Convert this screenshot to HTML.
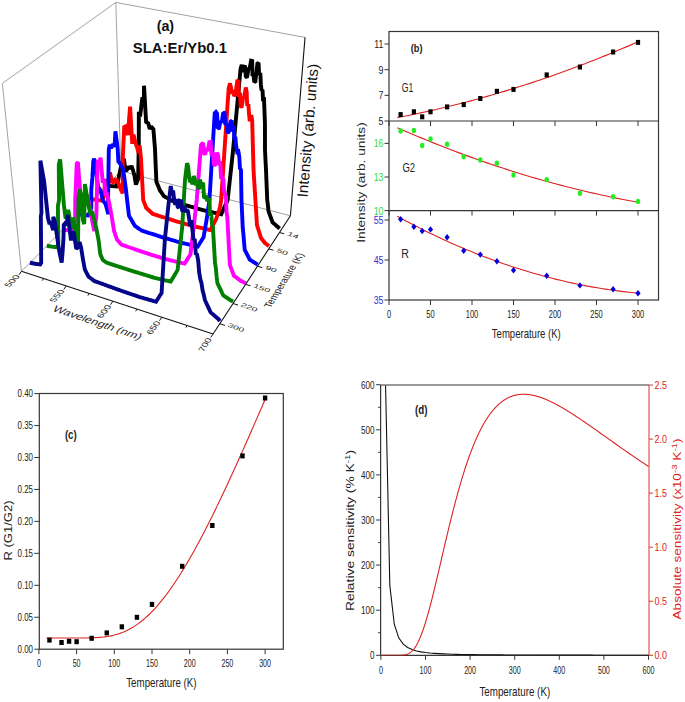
<!DOCTYPE html>
<html><head><meta charset="utf-8"><style>
html,body{margin:0;padding:0;background:#fff;overflow:hidden;width:685px;height:702px;}
svg{display:block;font-family:"Liberation Sans",sans-serif;}
</style></head><body>
<svg width="685" height="702" viewBox="0 0 685 702">
<rect width="685" height="702" fill="#fff"/>
<rect x="389.0" y="31.5" width="269.5" height="268.5" fill="none" stroke="#363636" stroke-width="1.2"/>
<line x1="389" y1="121" x2="658.5" y2="121" stroke="#363636" stroke-width="1.2"/>
<line x1="389" y1="210.6" x2="658.5" y2="210.6" stroke="#363636" stroke-width="1.2"/>
<line x1="389" y1="121" x2="389" y2="126" stroke="#363636" stroke-width="1"/>
<line x1="430.5" y1="121" x2="430.5" y2="126" stroke="#363636" stroke-width="1"/>
<line x1="472" y1="121" x2="472" y2="126" stroke="#363636" stroke-width="1"/>
<line x1="513.5" y1="121" x2="513.5" y2="126" stroke="#363636" stroke-width="1"/>
<line x1="555" y1="121" x2="555" y2="126" stroke="#363636" stroke-width="1"/>
<line x1="596.5" y1="121" x2="596.5" y2="126" stroke="#363636" stroke-width="1"/>
<line x1="638" y1="121" x2="638" y2="126" stroke="#363636" stroke-width="1"/>
<line x1="389" y1="210.6" x2="389" y2="215.6" stroke="#363636" stroke-width="1"/>
<line x1="430.5" y1="210.6" x2="430.5" y2="215.6" stroke="#363636" stroke-width="1"/>
<line x1="472" y1="210.6" x2="472" y2="215.6" stroke="#363636" stroke-width="1"/>
<line x1="513.5" y1="210.6" x2="513.5" y2="215.6" stroke="#363636" stroke-width="1"/>
<line x1="555" y1="210.6" x2="555" y2="215.6" stroke="#363636" stroke-width="1"/>
<line x1="596.5" y1="210.6" x2="596.5" y2="215.6" stroke="#363636" stroke-width="1"/>
<line x1="638" y1="210.6" x2="638" y2="215.6" stroke="#363636" stroke-width="1"/>
<line x1="389" y1="300" x2="389" y2="305" stroke="#363636" stroke-width="1"/>
<line x1="430.5" y1="300" x2="430.5" y2="305" stroke="#363636" stroke-width="1"/>
<line x1="472" y1="300" x2="472" y2="305" stroke="#363636" stroke-width="1"/>
<line x1="513.5" y1="300" x2="513.5" y2="305" stroke="#363636" stroke-width="1"/>
<line x1="555" y1="300" x2="555" y2="305" stroke="#363636" stroke-width="1"/>
<line x1="596.5" y1="300" x2="596.5" y2="305" stroke="#363636" stroke-width="1"/>
<line x1="638" y1="300" x2="638" y2="305" stroke="#363636" stroke-width="1"/>
<text x="389" y="318" font-size="11" text-anchor="middle" fill="#222" textLength="4.16" lengthAdjust="spacingAndGlyphs">0</text>
<text x="430.5" y="318" font-size="11" text-anchor="middle" fill="#222" textLength="8.32" lengthAdjust="spacingAndGlyphs">50</text>
<text x="472" y="318" font-size="11" text-anchor="middle" fill="#222" textLength="12.48" lengthAdjust="spacingAndGlyphs">100</text>
<text x="513.5" y="318" font-size="11" text-anchor="middle" fill="#222" textLength="12.48" lengthAdjust="spacingAndGlyphs">150</text>
<text x="555" y="318" font-size="11" text-anchor="middle" fill="#222" textLength="12.48" lengthAdjust="spacingAndGlyphs">200</text>
<text x="596.5" y="318" font-size="11" text-anchor="middle" fill="#222" textLength="12.48" lengthAdjust="spacingAndGlyphs">250</text>
<text x="638" y="318" font-size="11" text-anchor="middle" fill="#222" textLength="12.48" lengthAdjust="spacingAndGlyphs">300</text>
<text x="526.3" y="338.4" font-size="13.5" text-anchor="middle" fill="#222" textLength="69" lengthAdjust="spacingAndGlyphs">Temperature (K)</text>
<line x1="384.5" y1="121" x2="389" y2="121" stroke="#363636" stroke-width="1"/>
<text x="383.5" y="124.9" font-size="11" text-anchor="end" fill="#222" textLength="4.89" lengthAdjust="spacingAndGlyphs">5</text>
<line x1="384.5" y1="95.34" x2="389" y2="95.34" stroke="#363636" stroke-width="1"/>
<text x="383.5" y="99.24" font-size="11" text-anchor="end" fill="#222" textLength="4.89" lengthAdjust="spacingAndGlyphs">7</text>
<line x1="384.5" y1="69.68" x2="389" y2="69.68" stroke="#363636" stroke-width="1"/>
<text x="383.5" y="73.58" font-size="11" text-anchor="end" fill="#222" textLength="4.89" lengthAdjust="spacingAndGlyphs">9</text>
<line x1="384.5" y1="44.02" x2="389" y2="44.02" stroke="#363636" stroke-width="1"/>
<text x="383.5" y="47.92" font-size="11" text-anchor="end" fill="#222" textLength="9.13" lengthAdjust="spacingAndGlyphs">11</text>
<line x1="384.5" y1="210.6" x2="389" y2="210.6" stroke="#363636" stroke-width="1"/>
<text x="383.5" y="214.5" font-size="11" text-anchor="end" fill="#33dd33" textLength="9.79" lengthAdjust="spacingAndGlyphs">10</text>
<line x1="384.5" y1="177" x2="389" y2="177" stroke="#363636" stroke-width="1"/>
<text x="383.5" y="180.9" font-size="11" text-anchor="end" fill="#33dd33" textLength="9.79" lengthAdjust="spacingAndGlyphs">13</text>
<line x1="384.5" y1="143.4" x2="389" y2="143.4" stroke="#363636" stroke-width="1"/>
<text x="383.5" y="147.3" font-size="11" text-anchor="end" fill="#33dd33" textLength="9.79" lengthAdjust="spacingAndGlyphs">16</text>
<line x1="384.5" y1="300" x2="389" y2="300" stroke="#363636" stroke-width="1"/>
<text x="383.5" y="303.9" font-size="11" text-anchor="end" fill="#3333cc" textLength="9.79" lengthAdjust="spacingAndGlyphs">35</text>
<line x1="384.5" y1="260" x2="389" y2="260" stroke="#363636" stroke-width="1"/>
<text x="383.5" y="263.9" font-size="11" text-anchor="end" fill="#3333cc" textLength="9.79" lengthAdjust="spacingAndGlyphs">45</text>
<line x1="384.5" y1="220" x2="389" y2="220" stroke="#363636" stroke-width="1"/>
<text x="383.5" y="223.9" font-size="11" text-anchor="end" fill="#3333cc" textLength="9.79" lengthAdjust="spacingAndGlyphs">55</text>
<text x="365" y="182.5" font-size="10.5" text-anchor="middle" fill="#222" textLength="120.6" lengthAdjust="spacingAndGlyphs" transform="rotate(-90 365 182.5)">Intensity (arb. units)</text>
<text x="416.6" y="52.4" font-size="11.5" text-anchor="middle" fill="#222" font-weight="bold" textLength="11.75" lengthAdjust="spacingAndGlyphs">(b)</text>
<text x="407.6" y="91.8" font-size="12" text-anchor="middle" fill="#222" textLength="11.52" lengthAdjust="spacingAndGlyphs">G1</text>
<text x="408.8" y="172.3" font-size="12.5" text-anchor="middle" fill="#222" textLength="12.67" lengthAdjust="spacingAndGlyphs">G2</text>
<text x="405.2" y="258.3" font-size="12.5" text-anchor="middle" fill="#222" textLength="7.67" lengthAdjust="spacingAndGlyphs">R</text>
<polyline points="397.3,117.6 401.38,116.82 405.46,116.02 409.54,115.2 413.62,114.36 417.7,113.51 421.78,112.64 425.86,111.76 429.94,110.85 434.02,109.93 438.1,108.99 442.18,108.04 446.26,107.06 450.34,106.07 454.42,105.07 458.49,104.04 462.57,103 466.65,101.94 470.73,100.86 474.81,99.77 478.89,98.66 482.97,97.53 487.05,96.38 491.13,95.22 495.21,94.04 499.29,92.84 503.37,91.63 507.45,90.39 511.53,89.14 515.61,87.88 519.69,86.59 523.77,85.29 527.85,83.97 531.93,82.63 536.01,81.28 540.09,79.91 544.17,78.52 548.25,77.12 552.33,75.69 556.41,74.25 560.49,72.8 564.57,71.32 568.65,69.83 572.73,68.32 576.81,66.79 580.88,65.25 584.96,63.69 589.04,62.11 593.12,60.51 597.2,58.9 601.28,57.27 605.36,55.62 609.44,53.96 613.52,52.27 617.6,50.57 621.68,48.86 625.76,47.12 629.84,45.37 633.92,43.6 638,41.82" fill="none" stroke="#dd2222" stroke-width="1.1" stroke-linejoin="miter" stroke-miterlimit="1.6" stroke-linecap="butt"/>
<polyline points="397.3,127.66 401.38,129.45 405.46,131.22 409.54,132.98 413.62,134.71 417.7,136.43 421.78,138.13 425.86,139.82 429.94,141.48 434.02,143.13 438.1,144.75 442.18,146.36 446.26,147.96 450.34,149.53 454.42,151.08 458.49,152.62 462.57,154.14 466.65,155.64 470.73,157.12 474.81,158.59 478.89,160.03 482.97,161.46 487.05,162.87 491.13,164.26 495.21,165.63 499.29,166.99 503.37,168.33 507.45,169.64 511.53,170.95 515.61,172.23 519.69,173.49 523.77,174.74 527.85,175.96 531.93,177.17 536.01,178.36 540.09,179.54 544.17,180.69 548.25,181.83 552.33,182.95 556.41,184.05 560.49,185.13 564.57,186.19 568.65,187.24 572.73,188.27 576.81,189.27 580.88,190.27 584.96,191.24 589.04,192.19 593.12,193.13 597.2,194.05 601.28,194.95 605.36,195.83 609.44,196.69 613.52,197.54 617.6,198.36 621.68,199.17 625.76,199.96 629.84,200.74 633.92,201.49 638,202.23" fill="none" stroke="#dd2222" stroke-width="1.1" stroke-linejoin="miter" stroke-miterlimit="1.6" stroke-linecap="butt"/>
<polyline points="397.3,216.31 401.38,218.52 405.46,220.71 409.54,222.86 413.62,224.98 417.7,227.07 421.78,229.12 425.86,231.15 429.94,233.14 434.02,235.11 438.1,237.04 442.18,238.94 446.26,240.81 450.34,242.64 454.42,244.45 458.49,246.22 462.57,247.97 466.65,249.68 470.73,251.36 474.81,253 478.89,254.62 482.97,256.21 487.05,257.76 491.13,259.28 495.21,260.77 499.29,262.23 503.37,263.66 507.45,265.06 511.53,266.42 515.61,267.75 519.69,269.06 523.77,270.33 527.85,271.57 531.93,272.77 536.01,273.95 540.09,275.09 544.17,276.21 548.25,277.29 552.33,278.34 556.41,279.36 560.49,280.34 564.57,281.3 568.65,282.22 572.73,283.12 576.81,283.98 580.88,284.81 584.96,285.61 589.04,286.37 593.12,287.11 597.2,287.81 601.28,288.48 605.36,289.12 609.44,289.73 613.52,290.31 617.6,290.86 621.68,291.37 625.76,291.86 629.84,292.31 633.92,292.73 638,293.12" fill="none" stroke="#dd2222" stroke-width="1.1" stroke-linejoin="miter" stroke-miterlimit="1.6" stroke-linecap="butt"/>
<rect x="398.52" y="112.1" width="4.2" height="5" fill="#000"/>
<rect x="411.8" y="109.3" width="4.2" height="5" fill="#000"/>
<rect x="420.1" y="114.3" width="4.2" height="5" fill="#000"/>
<rect x="428.4" y="109.3" width="4.2" height="5" fill="#000"/>
<rect x="445" y="104.4" width="4.2" height="5" fill="#000"/>
<rect x="461.6" y="102.1" width="4.2" height="5" fill="#000"/>
<rect x="478.2" y="96" width="4.2" height="5" fill="#000"/>
<rect x="494.8" y="88.8" width="4.2" height="5" fill="#000"/>
<rect x="511.4" y="86.9" width="4.2" height="5" fill="#000"/>
<rect x="544.6" y="72.4" width="4.2" height="5" fill="#000"/>
<rect x="577.8" y="64.5" width="4.2" height="5" fill="#000"/>
<rect x="611" y="49.5" width="4.2" height="5" fill="#000"/>
<rect x="635.9" y="39.9" width="4.2" height="5" fill="#000"/>
<ellipse cx="400.62" cy="131" rx="2.2" ry="2.7" fill="#22ee22"/>
<ellipse cx="413.9" cy="130.5" rx="2.2" ry="2.7" fill="#22ee22"/>
<ellipse cx="422.2" cy="145.5" rx="2.2" ry="2.7" fill="#22ee22"/>
<ellipse cx="430.5" cy="138.9" rx="2.2" ry="2.7" fill="#22ee22"/>
<ellipse cx="447.1" cy="144.2" rx="2.2" ry="2.7" fill="#22ee22"/>
<ellipse cx="463.7" cy="156.8" rx="2.2" ry="2.7" fill="#22ee22"/>
<ellipse cx="480.3" cy="160" rx="2.2" ry="2.7" fill="#22ee22"/>
<ellipse cx="496.9" cy="163.3" rx="2.2" ry="2.7" fill="#22ee22"/>
<ellipse cx="513.5" cy="175" rx="2.2" ry="2.7" fill="#22ee22"/>
<ellipse cx="546.7" cy="179.6" rx="2.2" ry="2.7" fill="#22ee22"/>
<ellipse cx="579.9" cy="193.3" rx="2.2" ry="2.7" fill="#22ee22"/>
<ellipse cx="613.1" cy="196.7" rx="2.2" ry="2.7" fill="#22ee22"/>
<ellipse cx="638" cy="201.4" rx="2.2" ry="2.7" fill="#22ee22"/>
<polygon points="400.62,216 403.22,219.2 400.62,222.4 398.02,219.2" fill="#0000dd"/>
<polygon points="413.9,223.6 416.5,226.8 413.9,230 411.3,226.8" fill="#0000dd"/>
<polygon points="422.2,227.8 424.8,231 422.2,234.2 419.6,231" fill="#0000dd"/>
<polygon points="430.5,226.2 433.1,229.4 430.5,232.6 427.9,229.4" fill="#0000dd"/>
<polygon points="447.1,234.1 449.7,237.3 447.1,240.5 444.5,237.3" fill="#0000dd"/>
<polygon points="463.7,247.5 466.3,250.7 463.7,253.9 461.1,250.7" fill="#0000dd"/>
<polygon points="480.3,251.4 482.9,254.6 480.3,257.8 477.7,254.6" fill="#0000dd"/>
<polygon points="496.9,258 499.5,261.2 496.9,264.4 494.3,261.2" fill="#0000dd"/>
<polygon points="513.5,267 516.1,270.2 513.5,273.4 510.9,270.2" fill="#0000dd"/>
<polygon points="546.7,272.5 549.3,275.7 546.7,278.9 544.1,275.7" fill="#0000dd"/>
<polygon points="579.9,282.2 582.5,285.4 579.9,288.6 577.3,285.4" fill="#0000dd"/>
<polygon points="613.1,286.1 615.7,289.3 613.1,292.5 610.5,289.3" fill="#0000dd"/>
<polygon points="638,290.1 640.6,293.3 638,296.5 635.4,293.3" fill="#0000dd"/>
<rect x="39.3" y="393.5" width="244" height="255.7" fill="none" stroke="#363636" stroke-width="1.2"/>
<line x1="34.3" y1="649.2" x2="39.3" y2="649.2" stroke="#363636" stroke-width="1"/>
<text x="33" y="653" font-size="10.6" text-anchor="end" fill="#222" textLength="15.47" lengthAdjust="spacingAndGlyphs">0.00</text>
<line x1="34.3" y1="617.25" x2="39.3" y2="617.25" stroke="#363636" stroke-width="1"/>
<text x="33" y="621.05" font-size="10.6" text-anchor="end" fill="#222" textLength="15.47" lengthAdjust="spacingAndGlyphs">0.05</text>
<line x1="34.3" y1="585.3" x2="39.3" y2="585.3" stroke="#363636" stroke-width="1"/>
<text x="33" y="589.1" font-size="10.6" text-anchor="end" fill="#222" textLength="15.47" lengthAdjust="spacingAndGlyphs">0.10</text>
<line x1="34.3" y1="553.35" x2="39.3" y2="553.35" stroke="#363636" stroke-width="1"/>
<text x="33" y="557.15" font-size="10.6" text-anchor="end" fill="#222" textLength="15.47" lengthAdjust="spacingAndGlyphs">0.15</text>
<line x1="34.3" y1="521.4" x2="39.3" y2="521.4" stroke="#363636" stroke-width="1"/>
<text x="33" y="525.2" font-size="10.6" text-anchor="end" fill="#222" textLength="15.47" lengthAdjust="spacingAndGlyphs">0.20</text>
<line x1="34.3" y1="489.45" x2="39.3" y2="489.45" stroke="#363636" stroke-width="1"/>
<text x="33" y="493.25" font-size="10.6" text-anchor="end" fill="#222" textLength="15.47" lengthAdjust="spacingAndGlyphs">0.25</text>
<line x1="34.3" y1="457.5" x2="39.3" y2="457.5" stroke="#363636" stroke-width="1"/>
<text x="33" y="461.3" font-size="10.6" text-anchor="end" fill="#222" textLength="15.47" lengthAdjust="spacingAndGlyphs">0.30</text>
<line x1="34.3" y1="425.55" x2="39.3" y2="425.55" stroke="#363636" stroke-width="1"/>
<text x="33" y="429.35" font-size="10.6" text-anchor="end" fill="#222" textLength="15.47" lengthAdjust="spacingAndGlyphs">0.35</text>
<line x1="34.3" y1="393.6" x2="39.3" y2="393.6" stroke="#363636" stroke-width="1"/>
<text x="33" y="397.4" font-size="10.6" text-anchor="end" fill="#222" textLength="15.47" lengthAdjust="spacingAndGlyphs">0.40</text>
<line x1="38.9" y1="649.2" x2="38.9" y2="654.2" stroke="#363636" stroke-width="1"/>
<text x="38.9" y="666.5" font-size="10.5" text-anchor="middle" fill="#222" textLength="3.97" lengthAdjust="spacingAndGlyphs">0</text>
<line x1="76.6" y1="649.2" x2="76.6" y2="654.2" stroke="#363636" stroke-width="1"/>
<text x="76.6" y="666.5" font-size="10.5" text-anchor="middle" fill="#222" textLength="7.94" lengthAdjust="spacingAndGlyphs">50</text>
<line x1="114.3" y1="649.2" x2="114.3" y2="654.2" stroke="#363636" stroke-width="1"/>
<text x="114.3" y="666.5" font-size="10.5" text-anchor="middle" fill="#222" textLength="11.91" lengthAdjust="spacingAndGlyphs">100</text>
<line x1="152" y1="649.2" x2="152" y2="654.2" stroke="#363636" stroke-width="1"/>
<text x="152" y="666.5" font-size="10.5" text-anchor="middle" fill="#222" textLength="11.91" lengthAdjust="spacingAndGlyphs">150</text>
<line x1="189.7" y1="649.2" x2="189.7" y2="654.2" stroke="#363636" stroke-width="1"/>
<text x="189.7" y="666.5" font-size="10.5" text-anchor="middle" fill="#222" textLength="11.91" lengthAdjust="spacingAndGlyphs">200</text>
<line x1="227.4" y1="649.2" x2="227.4" y2="654.2" stroke="#363636" stroke-width="1"/>
<text x="227.4" y="666.5" font-size="10.5" text-anchor="middle" fill="#222" textLength="11.91" lengthAdjust="spacingAndGlyphs">250</text>
<line x1="265.1" y1="649.2" x2="265.1" y2="654.2" stroke="#363636" stroke-width="1"/>
<text x="265.1" y="666.5" font-size="10.5" text-anchor="middle" fill="#222" textLength="11.91" lengthAdjust="spacingAndGlyphs">300</text>
<text x="161.4" y="686.6" font-size="13.3" text-anchor="middle" fill="#222" textLength="70.3" lengthAdjust="spacingAndGlyphs">Temperature (K)</text>
<text x="12" y="530.5" font-size="11" text-anchor="middle" fill="#222" textLength="60" lengthAdjust="spacingAndGlyphs" transform="rotate(-90 12 530.5)">R (G1/G2)</text>
<text x="70.8" y="439.3" font-size="12" text-anchor="middle" fill="#222" font-weight="bold" textLength="11.73" lengthAdjust="spacingAndGlyphs">(c)</text>
<polyline points="46.44,638.02 48.28,638.02 50.11,638.02 51.95,638.02 53.79,638.02 55.63,638.02 57.46,638.02 59.3,638.02 61.14,638.02 62.98,638.02 64.81,638.02 66.65,638.02 68.49,638.02 70.33,638.02 72.16,638.02 74,638.02 75.84,638.01 77.68,638.01 79.51,638.01 81.35,638 83.19,637.99 85.03,637.97 86.86,637.95 88.7,637.92 90.54,637.88 92.38,637.82 94.21,637.75 96.05,637.66 97.89,637.55 99.73,637.41 101.56,637.25 103.4,637.06 105.24,636.83 107.08,636.56 108.91,636.25 110.75,635.9 112.59,635.5 114.43,635.06 116.26,634.55 118.1,634 119.94,633.38 121.78,632.7 123.61,631.96 125.45,631.16 127.29,630.29 129.13,629.35 130.96,628.34 132.8,627.26 134.64,626.11 136.48,624.89 138.31,623.59 140.15,622.22 141.99,620.77 143.83,619.25 145.66,617.66 147.5,615.98 149.34,614.24 151.18,612.42 153.01,610.53 154.85,608.56 156.69,606.52 158.53,604.41 160.36,602.22 162.2,599.97 164.04,597.65 165.88,595.26 167.71,592.8 169.55,590.27 171.39,587.68 173.23,585.03 175.06,582.31 176.9,579.53 178.74,576.7 180.58,573.8 182.41,570.84 184.25,567.83 186.09,564.77 187.93,561.65 189.76,558.48 191.6,555.26 193.44,551.99 195.28,548.67 197.11,545.31 198.95,541.9 200.79,538.45 202.63,534.95 204.46,531.42 206.3,527.84 208.14,524.23 209.98,520.58 211.81,516.89 213.65,513.17 215.49,509.41 217.33,505.63 219.16,501.81 221,497.96 222.84,494.09 224.68,490.18 226.51,486.25 228.35,482.3 230.19,478.32 232.03,474.32 233.86,470.29 235.7,466.25 237.54,462.18 239.38,458.1 241.21,453.99 243.05,449.87 244.89,445.74 246.73,441.59 248.56,437.42 250.4,433.24 252.24,429.05 254.08,424.85 255.91,420.63 257.75,416.4 259.59,412.17 261.43,407.92 263.26,403.67 265.1,399.41" fill="none" stroke="#dd2222" stroke-width="1.1" stroke-linejoin="miter" stroke-miterlimit="1.6" stroke-linecap="butt"/>
<rect x="47.26" y="637.6" width="4.4" height="5" fill="#000"/>
<rect x="59.32" y="640" width="4.4" height="5" fill="#000"/>
<rect x="66.86" y="638.8" width="4.4" height="5" fill="#000"/>
<rect x="74.4" y="639.2" width="4.4" height="5" fill="#000"/>
<rect x="89.48" y="635.8" width="4.4" height="5" fill="#000"/>
<rect x="104.56" y="630.4" width="4.4" height="5" fill="#000"/>
<rect x="119.64" y="624.3" width="4.4" height="5" fill="#000"/>
<rect x="134.72" y="614.8" width="4.4" height="5" fill="#000"/>
<rect x="149.8" y="601.9" width="4.4" height="5" fill="#000"/>
<rect x="179.96" y="563.8" width="4.4" height="5" fill="#000"/>
<rect x="210.12" y="523" width="4.4" height="5" fill="#000"/>
<rect x="240.28" y="453.4" width="4.4" height="5" fill="#000"/>
<rect x="262.9" y="395.5" width="4.4" height="5" fill="#000"/>
<line x1="380.6" y1="385.0" x2="649.0" y2="385.0" stroke="#363636" stroke-width="1.2"/>
<line x1="380.6" y1="655.3" x2="649.0" y2="655.3" stroke="#363636" stroke-width="1.2"/>
<line x1="380.6" y1="385.0" x2="380.6" y2="655.3" stroke="#363636" stroke-width="1.2"/>
<line x1="649.0" y1="385.0" x2="649.0" y2="655.3" stroke="#dd3333" stroke-width="1.0"/>
<line x1="376.1" y1="655.3" x2="380.6" y2="655.3" stroke="#363636" stroke-width="1"/>
<text x="374.6" y="659.1" font-size="10.8" text-anchor="end" fill="#222" textLength="4.5" lengthAdjust="spacingAndGlyphs">0</text>
<line x1="378.1" y1="632.75" x2="380.6" y2="632.75" stroke="#363636" stroke-width="1"/>
<line x1="376.1" y1="610.2" x2="380.6" y2="610.2" stroke="#363636" stroke-width="1"/>
<text x="374.6" y="614" font-size="10.8" text-anchor="end" fill="#222" textLength="13.51" lengthAdjust="spacingAndGlyphs">100</text>
<line x1="378.1" y1="587.65" x2="380.6" y2="587.65" stroke="#363636" stroke-width="1"/>
<line x1="376.1" y1="565.1" x2="380.6" y2="565.1" stroke="#363636" stroke-width="1"/>
<text x="374.6" y="568.9" font-size="10.8" text-anchor="end" fill="#222" textLength="13.51" lengthAdjust="spacingAndGlyphs">200</text>
<line x1="378.1" y1="542.55" x2="380.6" y2="542.55" stroke="#363636" stroke-width="1"/>
<line x1="376.1" y1="520" x2="380.6" y2="520" stroke="#363636" stroke-width="1"/>
<text x="374.6" y="523.8" font-size="10.8" text-anchor="end" fill="#222" textLength="13.51" lengthAdjust="spacingAndGlyphs">300</text>
<line x1="378.1" y1="497.45" x2="380.6" y2="497.45" stroke="#363636" stroke-width="1"/>
<line x1="376.1" y1="474.9" x2="380.6" y2="474.9" stroke="#363636" stroke-width="1"/>
<text x="374.6" y="478.7" font-size="10.8" text-anchor="end" fill="#222" textLength="13.51" lengthAdjust="spacingAndGlyphs">400</text>
<line x1="378.1" y1="452.35" x2="380.6" y2="452.35" stroke="#363636" stroke-width="1"/>
<line x1="376.1" y1="429.8" x2="380.6" y2="429.8" stroke="#363636" stroke-width="1"/>
<text x="374.6" y="433.6" font-size="10.8" text-anchor="end" fill="#222" textLength="13.51" lengthAdjust="spacingAndGlyphs">500</text>
<line x1="378.1" y1="407.25" x2="380.6" y2="407.25" stroke="#363636" stroke-width="1"/>
<line x1="376.1" y1="384.7" x2="380.6" y2="384.7" stroke="#363636" stroke-width="1"/>
<text x="374.6" y="388.5" font-size="10.8" text-anchor="end" fill="#222" textLength="13.51" lengthAdjust="spacingAndGlyphs">600</text>
<line x1="649" y1="655.3" x2="653" y2="655.3" stroke="#dd3333" stroke-width="1"/>
<text x="654.6" y="659.3" font-size="11.2" text-anchor="start" fill="#dd2222" textLength="12.45" lengthAdjust="spacingAndGlyphs">0.0</text>
<line x1="649" y1="601.25" x2="653" y2="601.25" stroke="#dd3333" stroke-width="1"/>
<text x="654.6" y="605.25" font-size="11.2" text-anchor="start" fill="#dd2222" textLength="12.45" lengthAdjust="spacingAndGlyphs">0.5</text>
<line x1="649" y1="547.2" x2="653" y2="547.2" stroke="#dd3333" stroke-width="1"/>
<text x="654.6" y="551.2" font-size="11.2" text-anchor="start" fill="#dd2222" textLength="12.45" lengthAdjust="spacingAndGlyphs">1.0</text>
<line x1="649" y1="493.15" x2="653" y2="493.15" stroke="#dd3333" stroke-width="1"/>
<text x="654.6" y="497.15" font-size="11.2" text-anchor="start" fill="#dd2222" textLength="12.45" lengthAdjust="spacingAndGlyphs">1.5</text>
<line x1="649" y1="439.1" x2="653" y2="439.1" stroke="#dd3333" stroke-width="1"/>
<text x="654.6" y="443.1" font-size="11.2" text-anchor="start" fill="#dd2222" textLength="12.45" lengthAdjust="spacingAndGlyphs">2.0</text>
<line x1="649" y1="385.05" x2="653" y2="385.05" stroke="#dd3333" stroke-width="1"/>
<text x="654.6" y="389.05" font-size="11.2" text-anchor="start" fill="#dd2222" textLength="12.45" lengthAdjust="spacingAndGlyphs">2.5</text>
<line x1="380.9" y1="655.3" x2="380.9" y2="659.8" stroke="#363636" stroke-width="1"/>
<text x="380.9" y="673.5" font-size="10.5" text-anchor="middle" fill="#222" textLength="3.97" lengthAdjust="spacingAndGlyphs">0</text>
<line x1="425.5" y1="655.3" x2="425.5" y2="659.8" stroke="#363636" stroke-width="1"/>
<text x="425.5" y="673.5" font-size="10.5" text-anchor="middle" fill="#222" textLength="11.91" lengthAdjust="spacingAndGlyphs">100</text>
<line x1="470.1" y1="655.3" x2="470.1" y2="659.8" stroke="#363636" stroke-width="1"/>
<text x="470.1" y="673.5" font-size="10.5" text-anchor="middle" fill="#222" textLength="11.91" lengthAdjust="spacingAndGlyphs">200</text>
<line x1="514.7" y1="655.3" x2="514.7" y2="659.8" stroke="#363636" stroke-width="1"/>
<text x="514.7" y="673.5" font-size="10.5" text-anchor="middle" fill="#222" textLength="11.91" lengthAdjust="spacingAndGlyphs">300</text>
<line x1="559.3" y1="655.3" x2="559.3" y2="659.8" stroke="#363636" stroke-width="1"/>
<text x="559.3" y="673.5" font-size="10.5" text-anchor="middle" fill="#222" textLength="11.91" lengthAdjust="spacingAndGlyphs">400</text>
<line x1="603.9" y1="655.3" x2="603.9" y2="659.8" stroke="#363636" stroke-width="1"/>
<text x="603.9" y="673.5" font-size="10.5" text-anchor="middle" fill="#222" textLength="11.91" lengthAdjust="spacingAndGlyphs">500</text>
<line x1="648.5" y1="655.3" x2="648.5" y2="659.8" stroke="#363636" stroke-width="1"/>
<text x="648.5" y="673.5" font-size="10.5" text-anchor="middle" fill="#222" textLength="11.91" lengthAdjust="spacingAndGlyphs">600</text>
<text x="514.8" y="696.4" font-size="13.3" text-anchor="middle" fill="#222" textLength="70.8" lengthAdjust="spacingAndGlyphs">Temperature (K)</text>
<text x="421.2" y="413.6" font-size="12.5" text-anchor="middle" fill="#222" font-weight="bold" textLength="12.45" lengthAdjust="spacingAndGlyphs">(d)</text>
<text x="353.6" y="530.4" font-size="10" text-anchor="middle" fill="#222" textLength="161" lengthAdjust="spacingAndGlyphs" transform="rotate(-90 353.6 530.4)">Relative sensitivity (% K<tspan font-size="7" dy="-4">-1</tspan><tspan dy="4">)</tspan></text>
<text x="681.2" y="529" font-size="10" text-anchor="middle" fill="#dd2222" textLength="181" lengthAdjust="spacingAndGlyphs" transform="rotate(-90 681.2 529)">Absolute sensitivity (x10<tspan font-size="7" dy="-4">-3</tspan><tspan dy="4"> K</tspan><tspan font-size="7" dy="-4">-1</tspan><tspan dy="4">)</tspan></text>
<clipPath id="cd"><rect x="381" y="385.6" width="268" height="270"/></clipPath>
<polyline points="385.18,291.79 385.36,375.68 389.82,585.39 394.28,624.23 398.74,637.82 403.2,644.12 407.66,647.53 412.12,649.59 416.58,650.93 421.04,651.85 425.5,652.5 429.96,652.99 434.42,653.36 438.88,653.65 443.34,653.87 447.8,654.06 452.26,654.21 456.72,654.33 461.18,654.44 465.64,654.53 470.1,654.6 474.56,654.67 479.02,654.72 483.48,654.77 487.94,654.81 492.4,654.85 496.86,654.89 501.32,654.92 505.78,654.94 510.24,654.97 514.7,654.99 519.16,655.01 523.62,655.03 528.08,655.04 532.54,655.06 537,655.07 541.46,655.08 545.92,655.1 550.38,655.11 554.84,655.12 559.3,655.13 563.76,655.13 568.22,655.14 572.68,655.15 577.14,655.16 581.6,655.16 586.06,655.17 590.52,655.17 594.98,655.18 599.44,655.18 603.9,655.19 608.36,655.19 612.82,655.2 617.28,655.2 621.74,655.2 626.2,655.21 630.66,655.21 635.12,655.21 639.58,655.22 644.04,655.22 648.5,655.22" fill="none" stroke="#111" stroke-width="1.1" stroke-linejoin="miter" stroke-miterlimit="1.6" stroke-linecap="butt" clip-path="url(#cd)"/>
<polyline points="381.12,655.3 381.66,655.3 382.19,655.3 382.73,655.3 383.27,655.3 383.8,655.3 384.34,655.3 384.87,655.3 385.41,655.3 385.95,655.3 386.48,655.3 387.02,655.3 387.55,655.3 388.09,655.3 388.62,655.3 389.16,655.3 389.7,655.3 390.23,655.3 390.77,655.3 391.3,655.3 391.84,655.3 392.38,655.3 392.91,655.3 393.45,655.3 393.98,655.3 394.52,655.3 395.05,655.3 395.59,655.3 396.13,655.3 396.66,655.3 397.2,655.3 397.73,655.29 398.27,655.29 398.81,655.29 399.34,655.28 399.88,655.27 400.41,655.25 400.95,655.24 401.48,655.21 402.02,655.18 402.56,655.14 403.09,655.09 403.63,655.03 404.16,654.96 404.7,654.87 405.24,654.77 405.77,654.64 406.31,654.5 406.84,654.33 407.38,654.13 407.91,653.91 408.45,653.66 408.99,653.38 409.52,653.06 410.06,652.71 410.59,652.32 411.13,651.89 411.67,651.42 412.2,650.91 412.74,650.35 413.27,649.75 413.81,649.1 414.34,648.4 414.88,647.65 415.42,646.85 415.95,646.01 416.49,645.11 417.02,644.16 417.56,643.16 418.09,642.1 418.63,641 419.17,639.84 419.7,638.64 420.24,637.38 420.77,636.07 421.31,634.71 421.85,633.31 422.38,631.85 422.92,630.35 423.45,628.8 423.99,627.21 424.52,625.57 425.06,623.89 425.6,622.17 426.13,620.41 426.67,618.6 427.2,616.77 427.74,614.89 428.28,612.98 428.81,611.04 429.35,609.06 429.88,607.06 430.42,605.02 430.95,602.96 431.49,600.88 432.03,598.77 432.56,596.63 433.1,594.48 433.63,592.3 434.17,590.11 434.71,587.9 435.24,585.67 435.78,583.43 436.31,581.18 436.85,578.91 437.38,576.64 437.92,574.36 438.46,572.07 438.99,569.77 439.53,567.47 440.06,565.17 440.6,562.86 441.14,560.55 441.67,558.24 442.21,555.94 442.74,553.63 443.28,551.33 443.81,549.03 444.35,546.74 444.89,544.45 445.42,542.17 445.96,539.89 446.49,537.63 447.03,535.37 447.57,533.13 448.1,530.89 448.64,528.67 449.17,526.46 449.71,524.26 450.24,522.07 450.78,519.9 451.32,517.75 451.85,515.6 452.39,513.48 452.92,511.37 453.46,509.27 454,507.2 454.53,505.14 455.07,503.1 455.6,501.07 456.14,499.07 456.67,497.08 457.21,495.11 457.75,493.16 458.28,491.24 458.82,489.33 459.35,487.44 459.89,485.57 460.43,483.72 460.96,481.9 461.5,480.09 462.03,478.31 462.57,476.54 463.1,474.8 463.64,473.08 464.18,471.38 464.71,469.7 465.25,468.04 465.78,466.4 466.32,464.79 466.86,463.2 467.39,461.63 467.93,460.08 468.46,458.55 469,457.04 469.53,455.56 470.07,454.1 470.61,452.66 471.14,451.24 471.68,449.84 472.21,448.46 472.75,447.1 473.29,445.77 473.82,444.46 474.36,443.16 474.89,441.89 475.43,440.64 475.96,439.41 476.5,438.2 477.04,437.01 477.57,435.84 478.11,434.69 478.64,433.56 479.18,432.46 479.71,431.37 480.25,430.3 480.79,429.25 481.32,428.22 481.86,427.21 482.39,426.21 482.93,425.24 483.47,424.29 484,423.35 484.54,422.43 485.07,421.53 485.61,420.65 486.14,419.79 486.68,418.95 487.22,418.12 487.75,417.31 488.29,416.52 488.82,415.74 489.36,414.98 489.9,414.24 490.43,413.52 490.97,412.81 491.5,412.11 492.04,411.44 492.57,410.78 493.11,410.13 493.65,409.51 494.18,408.89 494.72,408.29 495.25,407.71 495.79,407.14 496.33,406.59 496.86,406.05 497.4,405.53 497.93,405.02 498.47,404.52 499,404.04 499.54,403.57 500.08,403.11 500.61,402.67 501.15,402.25 501.68,401.83 502.22,401.43 502.76,401.04 503.29,400.66 503.83,400.3 504.36,399.95 504.9,399.61 505.43,399.28 505.97,398.96 506.51,398.66 507.04,398.37 507.58,398.09 508.11,397.82 508.65,397.56 509.19,397.31 509.72,397.07 510.26,396.85 510.79,396.63 511.33,396.42 511.86,396.23 512.4,396.04 512.94,395.87 513.47,395.7 514.01,395.55 514.54,395.4 515.08,395.26 515.62,395.14 516.15,395.02 516.69,394.91 517.22,394.81 517.76,394.72 518.29,394.63 518.83,394.56 519.37,394.49 519.9,394.43 520.44,394.38 520.97,394.34 521.51,394.31 522.05,394.28 522.58,394.26 523.12,394.25 523.65,394.25 524.19,394.25 524.72,394.27 525.26,394.28 525.8,394.31 526.33,394.34 526.87,394.38 527.4,394.43 527.94,394.48 528.48,394.54 529.01,394.6 529.55,394.68 530.08,394.75 530.62,394.84 531.15,394.93 531.69,395.02 532.23,395.13 532.76,395.23 533.3,395.35 533.83,395.47 534.37,395.59 534.9,395.72 535.44,395.86 535.98,396 536.51,396.14 537.05,396.29 537.58,396.45 538.12,396.61 538.66,396.77 539.19,396.94 539.73,397.12 540.26,397.3 540.8,397.48 541.33,397.67 541.87,397.86 542.41,398.05 542.94,398.26 543.48,398.46 544.01,398.67 544.55,398.88 545.09,399.1 545.62,399.32 546.16,399.54 546.69,399.77 547.23,400 547.76,400.24 548.3,400.48 548.84,400.72 549.37,400.96 549.91,401.21 550.44,401.47 550.98,401.72 551.52,401.98 552.05,402.24 552.59,402.51 553.12,402.77 553.66,403.04 554.19,403.32 554.73,403.59 555.27,403.87 555.8,404.16 556.34,404.44 556.87,404.73 557.41,405.02 557.95,405.31 558.48,405.6 559.02,405.9 559.55,406.2 560.09,406.5 560.62,406.81 561.16,407.11 561.7,407.42 562.23,407.73 562.77,408.04 563.3,408.36 563.84,408.67 564.38,408.99 564.91,409.31 565.45,409.64 565.98,409.96 566.52,410.29 567.05,410.61 567.59,410.94 568.13,411.27 568.66,411.61 569.2,411.94 569.73,412.28 570.27,412.62 570.81,412.95 571.34,413.3 571.88,413.64 572.41,413.98 572.95,414.33 573.48,414.67 574.02,415.02 574.56,415.37 575.09,415.72 575.63,416.07 576.16,416.42 576.7,416.77 577.24,417.13 577.77,417.48 578.31,417.84 578.84,418.2 579.38,418.56 579.91,418.92 580.45,419.28 580.99,419.64 581.52,420 582.06,420.36 582.59,420.73 583.13,421.09 583.67,421.46 584.2,421.82 584.74,422.19 585.27,422.56 585.81,422.93 586.34,423.3 586.88,423.67 587.42,424.04 587.95,424.41 588.49,424.78 589.02,425.15 589.56,425.52 590.1,425.9 590.63,426.27 591.17,426.65 591.7,427.02 592.24,427.4 592.77,427.77 593.31,428.15 593.85,428.52 594.38,428.9 594.92,429.28 595.45,429.65 595.99,430.03 596.52,430.41 597.06,430.79 597.6,431.16 598.13,431.54 598.67,431.92 599.2,432.3 599.74,432.68 600.28,433.06 600.81,433.44 601.35,433.82 601.88,434.2 602.42,434.58 602.95,434.96 603.49,435.34 604.03,435.72 604.56,436.1 605.1,436.48 605.63,436.86 606.17,437.24 606.71,437.62 607.24,438 607.78,438.38 608.31,438.76 608.85,439.14 609.38,439.52 609.92,439.9 610.46,440.28 610.99,440.66 611.53,441.04 612.06,441.42 612.6,441.8 613.14,442.18 613.67,442.55 614.21,442.93 614.74,443.31 615.28,443.69 615.81,444.07 616.35,444.45 616.89,444.82 617.42,445.2 617.96,445.58 618.49,445.96 619.03,446.33 619.57,446.71 620.1,447.09 620.64,447.46 621.17,447.84 621.71,448.21 622.24,448.59 622.78,448.96 623.32,449.34 623.85,449.71 624.39,450.09 624.92,450.46 625.46,450.83 626,451.21 626.53,451.58 627.07,451.95 627.6,452.32 628.14,452.69 628.67,453.07 629.21,453.44 629.75,453.81 630.28,454.18 630.82,454.55 631.35,454.92 631.89,455.28 632.43,455.65 632.96,456.02 633.5,456.39 634.03,456.75 634.57,457.12 635.1,457.49 635.64,457.85 636.18,458.22 636.71,458.58 637.25,458.95 637.78,459.31 638.32,459.67 638.86,460.03 639.39,460.4 639.93,460.76 640.46,461.12 641,461.48 641.53,461.84 642.07,462.2 642.61,462.56 643.14,462.92 643.68,463.28 644.21,463.63 644.75,463.99 645.29,464.35 645.82,464.7 646.36,465.06 646.89,465.41 647.43,465.77 647.96,466.12 648.5,466.47" fill="none" stroke="#dd2222" stroke-width="1.1" stroke-linejoin="miter" stroke-miterlimit="1.6" stroke-linecap="butt" clip-path="url(#cd)"/>
<line x1="2.36" y1="83.38" x2="115.8" y2="2.46" stroke="#8a8a8a" stroke-width="0.8"/>
<line x1="115.8" y1="2.46" x2="305.04" y2="37.39" stroke="#8a8a8a" stroke-width="0.8"/>
<line x1="21.4" y1="271.34" x2="2.36" y2="83.38" stroke="#8a8a8a" stroke-width="0.8"/>
<line x1="120.91" y1="171.03" x2="115.8" y2="2.46" stroke="#8a8a8a" stroke-width="0.8"/>
<line x1="21.4" y1="271.34" x2="120.91" y2="171.03" stroke="#8a8a8a" stroke-width="0.8"/>
<line x1="120.91" y1="171.03" x2="290.42" y2="215.79" stroke="#8a8a8a" stroke-width="0.8"/>
<line x1="290.42" y1="215.79" x2="305.04" y2="37.39" stroke="#111" stroke-width="1.1"/>
<polyline points="106.67,185.39 107.86,185.56 109.05,185.73 110.25,185.9 111.44,186.08 112.64,186.17 113.84,186.27 115.04,186.37 116.24,186.46 117.7,182.24 118.92,176.35 120.15,170.41 121.97,162.97 123.89,158.67 125.44,170.22 126.67,170.05 127.86,168.64 129.04,166.38 130.34,168.95 131.5,165.76 133,170.19 134.53,175.94 135.87,184.64 137,181.72 138.14,178.8 138.77,145.35 138.84,111.78 140.05,116.55 141.04,108.84 142.35,97.59 143.87,100.06 144.02,85.73 146.1,121.92 148.29,123.46 149.78,128.96 151.19,126.38 153.39,129.13 154.94,148.23 156.39,181.73 158.2,186.11 159.99,190.48 161.35,192.43 162.71,194.38 164.07,196.32 165.48,197.1 166.89,197.87 168.3,198.65 169.71,199.43 171.13,200.21 172.54,200.98 173.96,201.44 175.38,201.89 176.8,202.34 178.23,202.79 179.65,203.24 181.08,203.7 182.51,204.15 183.94,204.61 185.37,205.06 186.8,205.52 188.24,205.98 189.68,206.43 190.64,206.69 191.6,206.96 192.56,207.22 193.52,207.48 194.49,207.74 195.45,208 196.42,208.27 197.38,208.53 198.35,208.79 199.32,209.05 200.28,209.32 201.25,209.58 202.22,209.84 203.2,210.11 204.17,210.37 205.14,210.64 206.11,210.9 207.09,211.17 208.03,211.37 208.97,211.57 209.9,211.77 210.85,211.97 211.79,212.18 212.73,212.38 213.67,212.58 214.62,212.79 215.56,212.99 216.51,213.19 217.45,213.4 218.4,213.6 219.35,213.8 220.3,214.01 221.25,214.21 222.31,211.86 223.37,209.49 224.44,207.12 225.51,204.73 226.59,202.34 227.67,199.93 229.36,184.4 231.1,168.53 232.86,152.3 234.7,132.36 236.59,111.88 238.53,90.84 240.53,69.22 241.76,64.68 242.46,72.13 243.73,67.13 245.04,65.69 245.77,76.34 246.94,77.75 248.47,69.13 249.61,68.56 251.12,60.71 252.18,60.97 252.47,75.98 253.59,74.81 254.27,82 255.39,81.38 257.44,63.51 258.57,62.79 259.08,74.4 260.33,72.82 260.84,84.15 261.5,90.27 262.54,89.89 263,99.22 264.02,99.13 264.49,111.43 264.95,123.56 264.98,136.9 265,150.02 265.5,160.03 266,169.92 266.42,180.09 266.83,190.13 267.24,200.06 267.89,205.32 268.51,211.06 269.33,213.33 270.15,215.59 270.97,217.85 271.78,220.1 272.6,222.35 273.61,223.24 274.62,224.14 275.63,225.03 276.65,225.92 277.66,226.81 278.67,227.7 279.69,228.59" fill="none" stroke="#000000" stroke-width="3.9" stroke-linejoin="miter" stroke-miterlimit="1.6" stroke-linecap="butt"/>
<polyline points="92.74,199.42 93.95,199.61 95.17,199.79 96.38,199.98 97.6,200.17 98.81,200.28 100.02,200.39 101.24,200.49 102.46,200.6 103.9,196.33 105.26,179.61 106.74,182.54 108.19,184.72 109.03,177.5 109.96,172.49 112.42,182.83 113.97,181.86 115.48,179.63 116.88,180.03 118.36,183.15 119.82,187.11 121.27,190.52 122.77,193.33 122.77,158.38 123.49,142.85 124.23,126.99 125.7,126.3 127.86,135 128.96,120.94 130.09,106.6 132.27,143.85 133.56,134.59 135.23,142.35 137.37,148.22 138.6,153.06 139.6,145.34 140.97,158.34 143.23,200.07 144.7,203.93 146.16,207.77 147.5,209 148.83,210.24 150.16,211.47 151.5,212.7 152.83,213.94 154.34,214.41 155.85,214.88 157.36,215.35 158.87,215.83 160.39,216.3 161.9,216.78 163.42,217.25 164.94,217.73 166.47,218.21 167.99,218.68 169.52,219.16 171.05,219.64 172.58,220.12 174.11,220.6 175.65,221.08 177.19,221.56 178.17,221.84 179.14,222.11 180.12,222.39 181.1,222.66 182.08,222.94 183.07,223.21 184.05,223.49 185.03,223.76 186.02,224.04 187,224.32 187.99,224.59 188.98,224.87 189.97,225.15 190.96,225.42 191.95,225.7 192.94,225.98 193.93,226.26 194.92,226.54 195.94,226.77 196.95,227 197.97,227.23 198.99,227.46 200.01,227.69 201.03,227.92 202.05,228.16 203.07,228.39 204.09,228.62 205.11,228.85 206.14,229.09 207.17,229.32 208.19,229.55 209.22,229.79 210.25,230.02 211.41,227.89 212.58,225.75 213.75,223.6 214.92,221.44 216.1,219.27 217.13,216.21 218.17,212.89 219.21,210.05 220.13,206.39 221.15,200.02 223.53,164.62 226.03,127.46 228.66,88.42 229.97,83.36 230.94,87.33 231.84,93.83 233.15,90.14 234.07,95.9 235.41,94.41 237.26,81.08 238.38,80.53 238.75,97.04 240.04,92.48 240.54,105.48 241.52,107.72 243.05,98.34 244.2,97.26 245.77,87.49 246.69,92.14 247.16,105.75 248.38,104.1 249.01,114.06 249.8,121.3 251.29,115 252.17,120.4 252.52,133.06 252.86,145.54 253.2,157.83 253.53,169.96 254.16,180.09 254.79,190.1 255.4,200 255.93,208.43 256.45,216.78 256.96,225.04 257.78,227.65 258.59,230.25 259.4,232.85 260.21,235.44 261.02,238.03 262,239.27 262.99,240.51 263.98,241.76 264.97,243 265.96,243.78 266.95,244.56 267.95,245.34 268.94,246.12" fill="none" stroke="#ff0000" stroke-width="3.9" stroke-linejoin="miter" stroke-miterlimit="1.6" stroke-linecap="butt"/>
<polyline points="78.16,214.13 79.39,214.33 80.62,214.53 81.85,214.73 83.09,214.93 84.32,215.05 85.55,215.18 86.78,215.3 88.02,215.42 89.52,212.71 91.27,207.98 91.28,190.12 92.37,177.92 93.28,161.38 94.17,158.55 96.23,171.28 98.08,187.34 99.21,188.05 100.81,191.38 102.61,199.78 104.11,202.04 105.59,204.19 106.98,209.18 108.36,214.15 108.12,194.95 108.46,172.61 108.82,149.56 109.78,144.53 111.07,148.21 113.15,143.99 114.59,146.92 115.41,131.36 117.67,148.31 118.36,161.42 120.58,164.25 122.75,168.61 124.12,176.01 125.68,187.62 126.6,195.58 128.96,215.66 130.46,218.24 131.95,220.82 133.44,223.38 134.93,225.95 136.33,226.9 137.72,227.85 139.11,228.8 140.51,229.75 141.9,230.7 143.37,231.17 144.84,231.64 146.3,232.1 147.77,232.57 149.25,233.04 150.72,233.51 152.2,233.98 153.68,234.45 155.16,234.93 156.64,235.4 158.12,235.87 159.61,236.34 161.1,236.82 162.59,237.29 164.08,237.77 165.07,238.06 166.07,238.35 167.07,238.64 168.07,238.93 169.07,239.21 170.07,239.5 171.07,239.79 172.07,240.08 173.07,240.38 174.08,240.67 175.08,240.96 176.09,241.25 177.09,241.54 178.1,241.83 179.11,242.12 180.12,242.42 181.13,242.71 182.14,243 183.18,243.24 184.21,243.47 185.25,243.71 186.28,243.94 187.32,244.17 188.36,244.41 189.4,244.64 190.44,244.88 191.48,245.12 192.53,245.35 193.57,245.59 194.61,245.82 195.66,246.06 196.71,246.3 197.76,246.54 198.91,244.68 200.07,242.82 201.24,240.96 202.41,239.08 203.59,237.2 204.69,230.75 205.81,224.24 206.93,217.66 208.17,208.95 209.43,200.12 211.13,172.19 212.89,143.19 214.72,113.03 215.89,111.9 217.08,113.59 217.85,128.44 219.1,128.03 220.54,120.92 221.7,122.65 223.27,112.43 224.48,113.04 225.37,124.84 226.73,123.76 227.68,133.36 228.97,131.21 230.56,121.67 231.83,120.5 232.48,131.39 233.79,125.93 234.36,138.15 235.44,138.27 236.18,146.08 237.14,151.8 238.37,151.32 239.33,156.86 239.93,168.28 240.98,170.01 241.23,185.13 241.48,199.98 242.11,213.86 242.73,227.5 243.43,234.49 244.08,242.52 244.74,249.93 245.78,251.9 246.82,253.87 247.85,255.83 248.89,257.8 249.92,259.76 251.01,260.44 252.1,261.12 253.19,261.8 254.28,262.47 255.37,263.15 256.46,263.83 257.56,264.51" fill="none" stroke="#0000ff" stroke-width="3.9" stroke-linejoin="miter" stroke-miterlimit="1.6" stroke-linecap="butt"/>
<polyline points="62.86,229.55 64.11,229.76 65.36,229.98 66.61,230.2 67.86,230.42 69.11,230.55 70.37,230.69 71.62,230.83 72.87,230.97 74.27,226.61 75.18,215.61 75.24,200.04 75.92,184.28 76.72,163.84 77.83,161.86 80.38,193.97 83.06,203.09 84.42,204.37 85.32,197.04 86.67,194.73 88.48,200.95 91.02,214.97 92.64,223.07 94.24,231.09 95.27,224.08 96.32,217 96.75,198.5 97.2,179.51 97.67,160 99.3,163.17 100.56,157.71 102.72,182.69 103.84,178.62 105.76,194.05 107.04,194.08 109.08,202.69 111.29,213.98 114.13,231.25 115.56,235.44 116.98,239.62 118.47,241.31 119.96,243 121.46,244.69 122.96,245.2 124.46,245.71 125.96,246.22 127.47,246.73 128.98,247.24 130.49,247.75 132,248.26 133.51,248.78 135.03,249.29 136.55,249.8 138.07,250.32 139.59,250.84 141.11,251.35 142.64,251.87 144.17,252.39 145.7,252.91 147.23,253.42 148.77,253.94 150.3,254.46 151.32,254.77 152.33,255.07 153.35,255.38 154.37,255.68 155.38,255.99 156.4,256.29 157.42,256.6 158.45,256.9 159.47,257.21 160.49,257.52 161.52,257.82 162.54,258.13 163.57,258.44 164.59,258.74 165.62,259.05 166.65,259.36 167.68,259.67 168.71,259.98 169.77,260.21 170.82,260.45 171.87,260.69 172.93,260.93 173.99,261.17 175.05,261.41 176.11,261.65 177.17,261.89 178.23,262.13 179.29,262.37 180.36,262.61 181.42,262.85 182.49,263.09 183.56,263.33 184.63,263.57 185.78,261.74 186.95,259.9 188.12,258.05 189.29,256.2 190.47,254.34 191.58,244.95 192.71,235.43 193.86,225.77 195.27,213.02 196.71,200.02 198.1,182.15 199.53,163.83 200.99,145.05 201.96,143.89 203.13,143.01 204.04,153.23 205.15,154.53 206.6,147.87 207.8,150.85 209.32,142.1 210.62,141.8 211.54,155.46 212.92,152.46 213.84,165.29 215.11,164.71 216.75,152.73 217.96,154.52 218.97,163.09 220.27,163.02 221.06,177.42 222.32,178.09 223.39,179.43 224.07,191.39 225.05,194.85 226.02,196.72 226.46,212.11 227.3,216.93 228.02,230.83 228.74,244.5 229.32,254.76 229.89,264.88 230.9,267.6 231.91,270.32 232.92,273.03 233.92,275.73 235.05,276.58 236.18,277.43 237.31,278.29 238.44,279.14 239.57,279.99 240.7,280.84 241.68,281.34 242.66,281.84 243.65,282.34 244.63,282.84 245.62,283.34" fill="none" stroke="#ff00ff" stroke-width="3.9" stroke-linejoin="miter" stroke-miterlimit="1.6" stroke-linecap="butt"/>
<polyline points="46.8,245.74 48.07,245.97 49.34,246.21 50.61,246.44 51.88,246.68 53.15,246.83 54.42,246.99 55.69,247.14 56.96,247.3 58.33,242.9 58.1,224.86 57.87,206.35 59.06,199.87 58.78,164.6 60.13,159.35 63.88,204.68 65.59,218.24 67.11,217.41 68.19,209.85 71.6,228.56 73,217.55 76.31,235.29 78.05,242.42 78.28,221.47 78.52,199.86 79.49,189.45 81.43,195.6 82.8,219.73 84.21,224.05 84.55,204.37 84.91,184.12 87.83,201.27 89.21,208.49 90.86,214.98 91.99,211.2 94.23,219.81 96.27,228.29 98.53,239.79 100.27,254.13 102.75,259.83 104.6,261.22 106.44,262.61 107.97,263.1 109.49,263.59 111.02,264.08 112.56,264.57 114.09,265.06 115.63,265.56 117.17,266.05 118.71,266.55 120.25,267.04 121.8,267.54 123.34,268.03 124.89,268.53 126.45,269.03 128,269.53 129.56,270.03 131.12,270.53 132.68,271.03 134.24,271.53 135.81,272.03 136.84,272.35 137.88,272.67 138.91,272.99 139.95,273.32 140.99,273.64 142.03,273.96 143.07,274.28 144.11,274.6 145.15,274.93 146.19,275.25 147.24,275.57 148.28,275.9 149.33,276.22 150.38,276.54 151.42,276.87 152.47,277.19 153.52,277.52 154.57,277.84 155.65,278.09 156.72,278.33 157.8,278.57 158.87,278.82 159.95,279.06 161.03,279.31 162.11,279.55 163.19,279.79 164.27,280.04 165.36,280.28 166.44,280.53 167.53,280.78 168.61,281.02 169.7,281.27 170.79,281.52 171.92,279.6 173.06,277.69 174.2,275.76 175.34,273.83 176.49,271.88 177.64,269.93 178.75,259.46 179.88,248.83 181.02,238.02 182.19,227.04 183.6,203.5 185.07,179.17 186.05,171.24 187.05,163.21 188.18,166.59 189.19,178.05 190.29,182.3 191.39,179.11 192.36,184.36 193.56,176.37 194.59,178.09 195.59,185.18 196.81,180.49 197.83,186.63 198.81,189.48 200.06,179.38 200.91,188.1 202.05,183.59 203.21,184.08 204.06,198.08 205.24,197.39 206.35,195.63 207.27,201.22 208.38,199.58 209.45,199.74 210.06,215.66 211.19,213.48 211.93,224.09 212.9,227.08 213.61,239.14 214.32,251.02 215.01,262.73 215.86,268.29 216.61,276.54 217.41,283.03 218.38,285.08 219.35,287.13 220.31,289.17 221.28,291.21 222.24,293.25 223.2,295.28 224.35,296.07 225.49,296.86 226.64,297.65 227.79,298.44 228.94,299.23 230.09,300.01 231.09,300.5 232.1,300.99 233.11,301.47" fill="none" stroke="#007f00" stroke-width="3.9" stroke-linejoin="miter" stroke-miterlimit="1.6" stroke-linecap="butt"/>
<polyline points="29.91,262.76 31.2,263.02 32.49,263.27 33.78,263.52 35.07,263.78 36.36,263.95 37.65,264.12 38.94,264.29 40.23,264.47 41.19,262.67 41.02,239.8 40.85,216.14 41.46,212.84 40.94,187.2 40.4,160.62 44.12,181.46 47.96,218.07 49.61,224.13 50.57,221.63 53.21,230.2 53.34,216.75 54.89,221.7 59.12,250.68 61.68,262.64 62.61,251.72 63.44,238.79 63.81,224.79 65.08,223.32 66.79,225.01 67.72,214.91 71.06,240.42 72.19,233.37 73.71,232.03 76.24,249.04 77.99,247.16 79.57,242.14 81.09,247.64 82.96,259.28 84.82,269.46 86.7,273.06 88.57,276.65 89.99,277.73 91.41,278.8 92.83,279.88 94.25,280.95 95.88,281.55 97.5,282.14 99.13,282.74 100.77,283.33 102.4,283.93 104.04,284.52 105.68,285.12 107.32,285.72 108.96,286.32 110.61,286.92 112.25,287.52 113.91,288.12 115.56,288.73 117.22,289.33 118.87,289.94 120.53,290.54 121.59,290.9 122.64,291.26 123.7,291.61 124.76,291.97 125.82,292.33 126.88,292.69 127.94,293.05 129,293.41 130.06,293.77 131.13,294.13 132.19,294.49 133.26,294.85 134.33,295.21 135.39,295.57 136.46,295.93 137.53,296.3 138.61,296.66 139.68,297.02 140.76,297.33 141.84,297.65 142.92,297.96 144.01,298.27 145.09,298.59 146.18,298.9 147.27,299.22 148.36,299.53 149.45,299.85 150.54,300.17 151.63,300.48 152.73,300.8 153.82,301.12 154.92,301.43 156.01,301.75 157.12,300.02 158.23,298.28 159.34,296.54 160.45,294.78 161.57,293.03 162.67,275.32 163.8,257.13 164.95,238.45 166.12,227.24 167.3,215.84 168.5,204.25 169.63,195.23 170.77,186.09 171.91,193.44 173.07,190.37 174.18,199.65 175.3,204.8 176.48,199.01 177.58,206.53 178.7,207.93 179.88,200.79 181.04,201.2 182.11,210.15 183.25,211.05 184.46,205.87 185.54,212.3 186.72,209.83 187.9,211.08 189,217.77 190.07,225.67 191.35,220.22 192.39,229.29 193.47,239.82 194.75,239.07 195.73,253.49 196.97,254.37 198.16,260.32 199.21,272.69 200.36,279.37 201.53,283.37 202.62,290.62 203.78,294.67 204.9,299.95 206.05,302.45 207.19,304.94 208.34,307.43 209.48,309.92 210.61,312.4 211.75,313.37 212.89,314.34 214.02,315.3 215.16,316.27 216.3,317.24 217.43,318.2 218.57,319.17 219.87,321.17" fill="none" stroke="#05058a" stroke-width="3.9" stroke-linejoin="miter" stroke-miterlimit="1.6" stroke-linecap="butt"/>
<line x1="21.4" y1="271.34" x2="213.07" y2="334.01" stroke="#111" stroke-width="1.1"/>
<line x1="213.07" y1="334.01" x2="290.42" y2="215.79" stroke="#111" stroke-width="1.1"/>
<line x1="21.4" y1="271.34" x2="19.1" y2="274.74" stroke="#111" stroke-width="1"/>
<line x1="43.52" y1="278.57" x2="42.12" y2="280.67" stroke="#111" stroke-width="1"/>
<line x1="66.12" y1="285.96" x2="63.82" y2="289.36" stroke="#111" stroke-width="1"/>
<line x1="89.24" y1="293.52" x2="87.84" y2="295.62" stroke="#111" stroke-width="1"/>
<line x1="112.88" y1="301.25" x2="110.58" y2="304.65" stroke="#111" stroke-width="1"/>
<line x1="137.06" y1="309.16" x2="135.66" y2="311.26" stroke="#111" stroke-width="1"/>
<line x1="161.81" y1="317.25" x2="159.51" y2="320.65" stroke="#111" stroke-width="1"/>
<line x1="187.14" y1="325.53" x2="185.74" y2="327.63" stroke="#111" stroke-width="1"/>
<line x1="213.07" y1="334.01" x2="210.77" y2="337.41" stroke="#111" stroke-width="1"/>
<text x="0" y="0" font-size="9.5" text-anchor="end" fill="#222" textLength="15.85" lengthAdjust="spacingAndGlyphs" transform="matrix(0.7042 -0.7100 0.8554 0.2797 20.4 276.34)">500</text>
<text x="0" y="0" font-size="9.5" text-anchor="end" fill="#222" textLength="15.85" lengthAdjust="spacingAndGlyphs" transform="matrix(0.6721 -0.7404 0.8554 0.2797 65.12 290.96)">550</text>
<text x="0" y="0" font-size="9.5" text-anchor="end" fill="#222" textLength="15.85" lengthAdjust="spacingAndGlyphs" transform="matrix(0.6357 -0.7720 0.8554 0.2797 111.88 306.25)">600</text>
<text x="0" y="0" font-size="9.5" text-anchor="end" fill="#222" textLength="15.85" lengthAdjust="spacingAndGlyphs" transform="matrix(0.5943 -0.8042 0.8554 0.2797 160.81 322.25)">650</text>
<text x="0" y="0" font-size="9.5" text-anchor="end" fill="#222" textLength="15.85" lengthAdjust="spacingAndGlyphs" transform="matrix(0.5475 -0.8368 0.8554 0.2797 212.07 339.01)">700</text>
<line x1="219.77" y1="323.77" x2="224.97" y2="325.44" stroke="#111" stroke-width="1"/>
<text x="0" y="0" font-size="10.2" text-anchor="start" fill="#222" textLength="17.02" lengthAdjust="spacingAndGlyphs" transform="matrix(0.9397 0.3420 -0.3176 0.4853 226.97 326.37)">300</text>
<line x1="233.02" y1="303.52" x2="238.11" y2="305.11" stroke="#111" stroke-width="1"/>
<text x="0" y="0" font-size="10.2" text-anchor="start" fill="#222" textLength="17.02" lengthAdjust="spacingAndGlyphs" transform="matrix(0.9397 0.3420 -0.3176 0.4853 240.22 306.12)">220</text>
<line x1="245.56" y1="284.35" x2="250.55" y2="285.85" stroke="#111" stroke-width="1"/>
<text x="0" y="0" font-size="10.2" text-anchor="start" fill="#222" textLength="17.02" lengthAdjust="spacingAndGlyphs" transform="matrix(0.9397 0.3420 -0.3176 0.4853 252.76 286.95)">150</text>
<line x1="257.45" y1="266.18" x2="262.34" y2="267.59" stroke="#111" stroke-width="1"/>
<text x="0" y="0" font-size="10.2" text-anchor="start" fill="#222" textLength="11.34" lengthAdjust="spacingAndGlyphs" transform="matrix(0.9397 0.3420 -0.3176 0.4853 264.65 268.78)">90</text>
<line x1="268.75" y1="248.92" x2="273.53" y2="250.26" stroke="#111" stroke-width="1"/>
<text x="0" y="0" font-size="10.2" text-anchor="start" fill="#222" textLength="11.34" lengthAdjust="spacingAndGlyphs" transform="matrix(0.9397 0.3420 -0.3176 0.4853 275.95 251.52)">50</text>
<line x1="279.48" y1="232.51" x2="284.17" y2="233.78" stroke="#111" stroke-width="1"/>
<text x="0" y="0" font-size="10.2" text-anchor="start" fill="#222" textLength="11.34" lengthAdjust="spacingAndGlyphs" transform="matrix(0.9397 0.3420 -0.3176 0.4853 286.68 235.11)">14</text>
<text x="0" y="0" font-size="12.6" text-anchor="start" fill="#222" textLength="92" lengthAdjust="spacingAndGlyphs" transform="matrix(0.9482 0.3175 -0.5213 0.6330 51.8 310.8)">Wavelength (nm)</text>
<text x="0" y="0" font-size="11" text-anchor="start" fill="#222" textLength="64" lengthAdjust="spacingAndGlyphs" transform="matrix(0.5272 -0.8497 0.9111 0.2691 270.5 308.5)">Temperature (K)</text>
<text x="0" y="0" font-size="15" text-anchor="start" fill="#111" textLength="134" lengthAdjust="spacingAndGlyphs" transform="matrix(0.0817 -0.9967 0.9967 0.0817 307.5 197.8)">Intensity (arb. units)</text>
<text x="165.4" y="30.6" font-size="14.3" text-anchor="middle" fill="#111" font-weight="bold" textLength="17.48" lengthAdjust="spacingAndGlyphs">(a)</text>
<text x="179.9" y="53.4" font-size="14.8" text-anchor="middle" fill="#111" font-weight="bold" textLength="94.3" lengthAdjust="spacingAndGlyphs">SLA:Er/Yb0.1</text>
</svg></body></html>
